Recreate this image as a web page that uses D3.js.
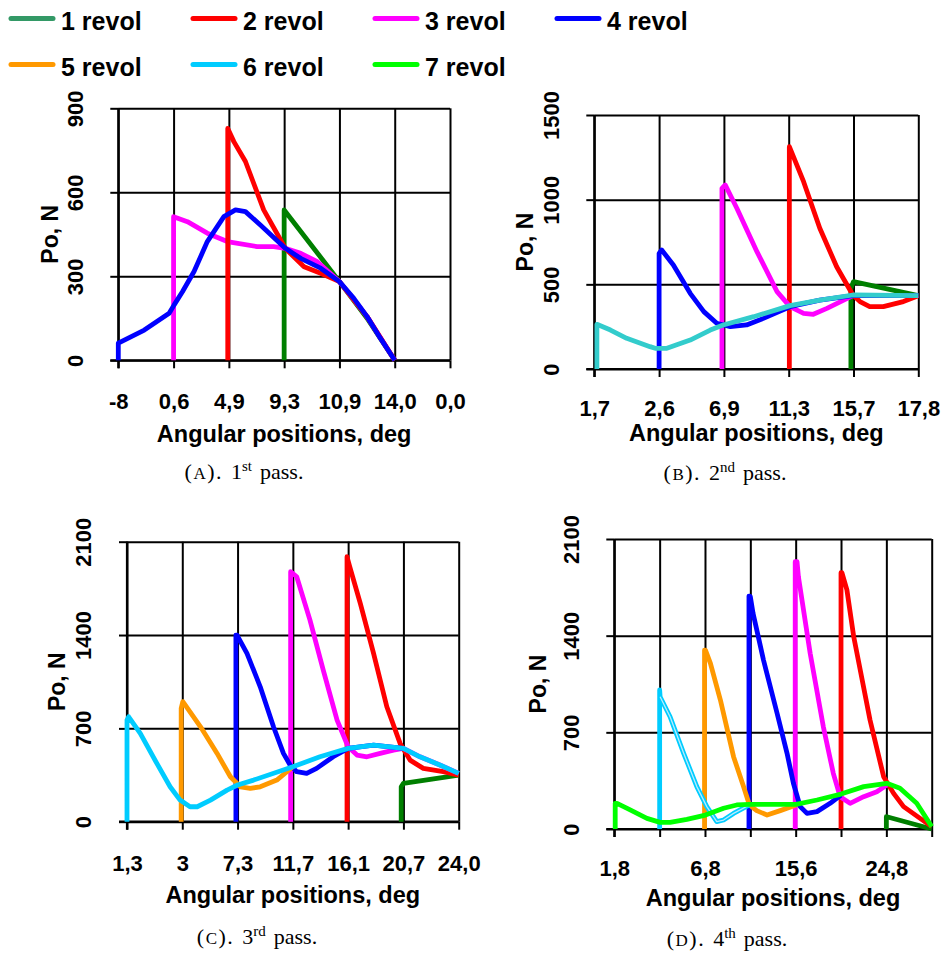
<!DOCTYPE html>
<head>
  <meta charset="utf-8">
  <script src="https://d3js.org/d3.v7.min.js"></script>
  <style>
    body { margin:0; background:#fff; }
    text { font-family: "Liberation Sans", Arial, sans-serif; font-weight: bold; fill:#000; }
    text.caption { font-family: "Liberation Serif", "Times New Roman", serif; font-weight: normal; }
    .grid line { stroke:#000; stroke-width:2; }
    .grid path { display:none; }
    .axis path { display:none; }
    .axis line { stroke:#000; stroke-width:2; }
    path.serie { fill:none; stroke-width:4.8; stroke-linejoin:round; }
  </style>
</head>

<body>
<script>

// legende
var revolNames = ["1 revol","2 revol","3 revol","4 revol","5 revol","6 revol","7 revol"];
var legendColors = ["#339966","#ff0000","#ff00ff","#0000ff","#ff9900","#00ccff","#00ff00"];
var lineColors = ["#007f00","#ff0000","#ff00ff","#0000ff","#ff9900","#00ccff","#00ff00"];

// x = position en cases de la grille, y = Po (N)
// (A) 1er passage
var passA_x = ["-8","0,6","4,9","9,3","10,9","14,0","0,0"];
var passA_yTicks = [0,300,600,900];
var passA_r1 = [[3,0],[3,537],[4,281],[4.5,150],[5,0]];
var passA_r2 = [[1.98,0],[1.98,828],[2.09,781],[2.3,710],[2.63,537],[3.02,400],[3.11,382],[3.36,334],[3.66,311],[4,281],[4.5,156],[5,0]];
var passA_r3 = [[1,0],[1,513],[1.25,495],[1.61,454],[1.97,424],[2.51,406],[2.81,406],[3.02,400],[3.3,382],[3.6,352],[4,281],[4.5,156],[5,0]];
var passA_r4 = [[0,0],[0,61],[0.47,108],[0.92,168],[1.01,198],[1.16,245],[1.37,317],[1.61,424],[1.91,513],[2.12,537],[2.3,531],[2.57,483],[3.02,400],[3.3,364],[3.66,329],[4,281],[4.26,221],[4.5,156],[4.74,79],[5,0]];

// (B) 2eme passage
var passB_x = ["1,7","2,6","6,9","11,3","15,7","17,8"];
var passB_yTicks = [0,500,1000,1500];
var passB_r1 = [[3.96,0],[3.96,476],[4,516],[5,433]];
var passB_r2 = [[3.01,0],[3.01,1313],[3.23,1106],[3.48,831],[3.74,604],[3.99,437],[4.1,398],[4.25,368],[4.46,368],[4.77,398],[5,433]];
var passB_r3 = [[1.97,0],[1.97,1067],[2.02,1087],[2.2,949],[2.51,693],[2.82,457],[3.02,368],[3.23,329],[3.38,323],[3.59,358],[3.99,433],[5,433]];
var passB_r4 = [[1,0],[1,683],[1.04,703],[1.22,614],[1.48,447],[1.69,339],[1.89,270],[2.1,250],[2.35,260],[2.61,299],[3.02,368],[3.48,407],[3.99,433],[5,433]];
var passB_r6 = [[0.04,0],[0.04,264],[0.25,230],[0.5,181],[0.86,132],[0.94,122],[1.12,122],[1.48,171],[1.79,230],[1.99,260],[2.46,309],[3.02,374],[3.48,407],[3.99,437],[5,433]];

// (C) 3eme passage
var passC_x = ["1,3","3","7,3","11,7","16,1","20,7","24,0"];
var passC_yTicks = [0,700,1400,2100];
var passC_r1 = [[4.96,0],[4.96,262],[5,287],[6,350]];
var passC_r2 = [[3.98,0],[3.98,1987],[4.03,1912],[4.22,1637],[4.46,1262],[4.7,862],[4.94,587],[5.12,462],[5.36,400],[5.72,375],[6,350]];
var passC_r3 = [[2.96,0],[2.96,1875],[3.07,1837],[3.31,1512],[3.55,1137],[3.8,762],[4,562],[4.16,500],[4.34,487],[4.58,512],[4.82,537],[5,550],[5.3,487],[5.66,425],[6,362]];
var passC_r4 = [[1.97,0],[1.97,1400],[1.99,1400],[2.17,1262],[2.41,1012],[2.65,712],[2.83,512],[2.95,425],[3.07,375],[3.25,362],[3.43,400],[3.73,487],[4,550],[4.46,575],[5,550]];
var passC_r5 = [[0.98,0],[0.98,850],[1.01,900],[1.33,712],[1.63,512],[1.87,337],[2.05,262],[2.23,250],[2.41,262],[2.71,312],[3,412]];
var passC_r6 = [[0,0],[0,762],[0.03,787],[0.24,662],[0.54,437],[0.78,262],[0.96,162],[1.14,112],[1.27,112],[1.51,162],[1.81,237],[2,275],[2.29,312],[3,412],[3.49,487],[4,550],[4.46,575],[5,550],[5.3,487],[5.66,425],[6,362]];

// (D) 4eme passage
var passD_x = ["1,8","","6,8","","15,6","","24,8",""];
var passD_yTicks = [0,700,1400,2100];
var passD_r1 = [[6,0],[6,89],[6.01,89],[7,0]];
var passD_r2 = [[5,0],[5,1856],[5.02,1856],[5.13,1731],[5.28,1393],[5.64,789],[5.94,379],[6.16,258],[6.38,162],[7,17]];
var passD_r3 = [[3.99,0],[3.99,1936],[4.03,1936],[4.06,1827],[4.32,1272],[4.61,741],[4.83,403],[4.98,234],[5.2,186],[5.5,234],[5.79,270],[6.01,319]];
var passD_r4 = [[2.97,0],[2.97,1687],[3,1683],[3.06,1562],[3.29,1224],[3.59,838],[3.81,548],[3.95,331],[4.1,162],[4.25,113],[4.47,126],[4.76,186],[5,246]];
var passD_r5 = [[1.99,0],[1.99,1296],[2.01,1296],[2.12,1200],[2.34,934],[2.63,524],[2.85,307],[2.98,174],[3.14,133],[3.37,101],[3.66,133],[4.01,174]];
var passD_r6 = [[1,0],[1,1007],[1.01,958],[1.23,813],[1.53,548],[1.82,307],[2.04,162],[2.26,53],[2.41,65],[2.63,113],[2.98,174]];
var passD_r7 = [[0.02,0],[0.02,186],[0.06,186],[0.35,138],[0.72,77],[1.01,48],[1.23,48],[1.6,70],[2.01,101],[2.41,150],[2.7,174],[2.98,179],[3.44,179],[4.01,179],[4.47,210],[5,253],[5.5,307],[6.01,331],[6.3,295],[6.67,186],[7,17]];

var panels = [
  {left:118.3, right:450, top:108.3, bottom:360.3, cells:6, yMax:900, yTicks:passA_yTicks, xLabels:passA_x,
   labelY:401, titleY:434, yLabelX:75.7, yTitleX:50, capX:244, capY:479, letter:"A", num:"1", sup:"st",
   series:[[0,passA_r1],[2,passA_r3],[1,passA_r2],[3,passA_r4]]},
  {left:594.3, right:918.3, top:115, bottom:369, cells:5, yMax:1500, yTicks:passB_yTicks, xLabels:passB_x,
   labelY:408, titleY:433, yLabelX:551.7, yTitleX:525, capX:725, capY:480, letter:"B", num:"2", sup:"nd",
   series:[[0,passB_r1],[1,passB_r2],[2,passB_r3],[3,passB_r4],[5,passB_r6,"#33cccc"]]},
  {left:127, right:458.7, top:541.7, bottom:821.7, cells:6, yMax:2100, yTicks:passC_yTicks, xLabels:passC_x,
   labelY:863, titleY:895, yLabelX:83.3, yTitleX:56.7, capX:257, capY:944, letter:"C", num:"3", sup:"rd",
   series:[[0,passC_r1],[1,passC_r2],[2,passC_r3],[3,passC_r4],[4,passC_r5],[5,passC_r6]]},
  {left:614.3, right:931.7, top:539, bottom:829, cells:7, yMax:2100, yTicks:passD_yTicks, xLabels:passD_x,
   labelY:868, titleY:898, yLabelX:571.7, yTitleX:538, capX:727, capY:946, letter:"D", num:"4", sup:"th",
   series:[[0,passD_r1],[1,passD_r2],[2,passD_r3],[3,passD_r4],[4,passD_r5],[5,passD_r6],[6,passD_r7]]}
];

var svg = d3.select("body").append("svg")
  .attr("width", 942)
  .attr("height", 953);

// legende en haut
var leg = svg.append("g");
revolNames.forEach(function(name, i) {
  var col = i < 4 ? i : i - 4;
  var row = i < 4 ? 0 : 1;
  var lx = 9 + col * 182, ly = 18.5 + row * 46;
  leg.append("line")
    .attr("x1", lx + 2).attr("x2", lx + 44)
    .attr("y1", ly).attr("y2", ly)
    .attr("stroke", legendColors[i])
    .attr("stroke-width", 5)
    .attr("stroke-linecap", "round");
  leg.append("text")
    .attr("x", lx + 52).attr("y", ly + 11.5)
    .style("font-size", "25px")
    .text(name);
});

panels.forEach(function(p) {
  var x = d3.scaleLinear().domain([0, p.cells]).range([p.left, p.right]);
  var y = d3.scaleLinear().domain([0, p.yMax]).range([p.bottom, p.top]);
  var g = svg.append("g");

  // grille
  g.append("g").attr("class", "grid")
    .attr("transform", "translate(0," + p.bottom + ")")
    .call(d3.axisBottom(x).tickValues(d3.range(p.cells + 1)).tickSize(-(p.bottom - p.top)).tickFormat(""));
  g.append("g").attr("class", "grid")
    .attr("transform", "translate(" + p.left + ",0)")
    .call(d3.axisLeft(y).tickValues(p.yTicks).tickSize(-(p.right - p.left)).tickFormat(""));

  // axes
  var xAxis = g.append("g").attr("class", "axis")
    .attr("transform", "translate(0," + p.bottom + ")")
    .call(d3.axisBottom(x).tickValues(d3.range(p.cells + 1)).tickSize(8)
      .tickFormat(function(d) { return p.xLabels[d]; }));
  xAxis.selectAll("text")
    .attr("y", p.labelY - p.bottom).attr("dy", "0.35em")
    .style("font-size", "22px");

  var yAxis = g.append("g").attr("class", "axis")
    .attr("transform", "translate(" + p.left + ",0)")
    .call(d3.axisLeft(y).tickValues(p.yTicks).tickSize(8).tickFormat(d3.format("d")));
  yAxis.selectAll("text")
    .attr("x", 0).attr("dy", "0.35em")
    .attr("text-anchor", "middle")
    .attr("transform", "translate(" + (p.yLabelX - p.left) + ",0) rotate(-90)")
    .style("font-size", "22px");

  g.append("line")
    .attr("x1", p.left).attr("x2", p.left).attr("y1", p.top).attr("y2", p.bottom + 8)
    .attr("stroke", "#000").attr("stroke-width", 2.2);
  g.append("line")
    .attr("x1", p.left - 8).attr("x2", p.right).attr("y1", p.bottom).attr("y2", p.bottom)
    .attr("stroke", "#000").attr("stroke-width", 2.2);

  // courbes
  var line = d3.line().x(function(d) { return x(d[0]); }).y(function(d) { return y(d[1]); });
  p.series.forEach(function(s) {
    g.append("path").attr("class", "serie")
      .attr("d", line(s[1]))
      .attr("stroke", s[2] || lineColors[s[0]]);
    // trait clair au milieu de la courbe 6 revol (4eme passage)
    if (p.letter == "D" && s[0] == 5) {
      g.append("path").attr("class", "serie")
        .attr("d", line(s[1].slice(2)))
        .style("stroke-width", 1.3)
        .attr("stroke", "#b8ecff");
    }
  });

  // titres des axes
  g.append("text")
    .attr("x", (p.left + p.right) / 2).attr("y", p.titleY).attr("dy", "0.35em")
    .attr("text-anchor", "middle")
    .style("font-size", "23.5px")
    .text("Angular positions, deg");
  g.append("text")
    .attr("transform", "translate(" + p.yTitleX + "," + ((p.top + p.bottom) / 2) + ") rotate(-90)")
    .attr("dy", "0.35em")
    .attr("text-anchor", "middle")
    .style("font-size", "23px")
    .text("Po, N");

  // legende de la figure
  var cap = g.append("text").attr("class", "caption")
    .attr("x", p.capX).attr("y", p.capY)
    .attr("text-anchor", "middle")
    .style("font-size", "22px");
  cap.append("tspan").style("letter-spacing", "1.5px").text("(");
  cap.append("tspan").style("font-size", "17px").style("letter-spacing", "1.5px").text(p.letter);
  cap.append("tspan").style("letter-spacing", "1.5px").text(").");
  cap.append("tspan").attr("dx", 8).text(p.num);
  cap.append("tspan").attr("dy", -8).style("font-size", "15px").text(p.sup);
  cap.append("tspan").attr("dy", 8).attr("dx", 8).text("pass.");
});

</script>
</body>
